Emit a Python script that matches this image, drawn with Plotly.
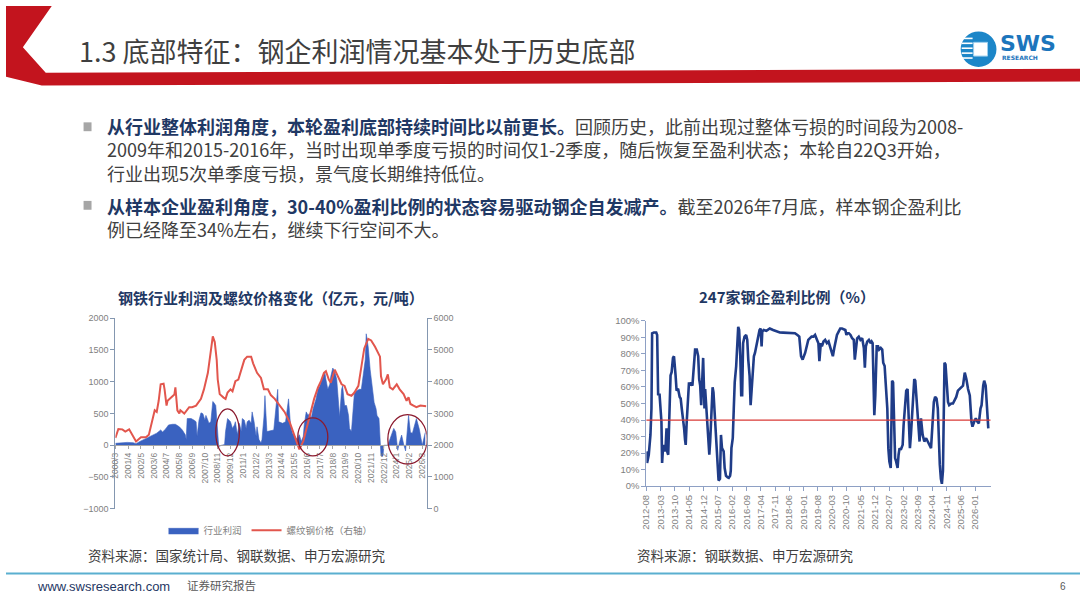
import pandas as pd
import plotly.graph_objects as go

W, H = 1080, 608

# 左图：钢铁行业利润（亿元，左轴）与螺纹钢价格（元/吨，右轴）
profit_dates = [
    "2000-03", "2000-09", "2001-03", "2001-09", "2001-12", "2002-04", "2002-08", "2003-01",
    "2003-04", "2003-06", "2003-09", "2004-01", "2004-03", "2004-06", "2004-09", "2005-01",
    "2005-04", "2005-08", "2005-11", "2006-02", "2006-03", "2006-04", "2006-08", "2006-11",
    "2007-01", "2007-02", "2007-04", "2007-06", "2007-08", "2007-10", "2007-11", "2008-01",
    "2008-02", "2008-04", "2008-06", "2008-07", "2008-09", "2008-10", "2008-11", "2008-12",
    "2009-03", "2009-06", "2009-07", "2009-09", "2009-12", "2010-02", "2010-04", "2010-05",
    "2010-07", "2010-09", "2010-11", "2010-12", "2011-02", "2011-04", "2011-05", "2011-07",
    "2011-09", "2011-10", "2011-12", "2012-02", "2012-03", "2012-05", "2012-07", "2012-08",
    "2012-10", "2012-11", "2013-01", "2013-04", "2013-08", "2013-12", "2014-01", "2014-05",
    "2014-08", "2014-11", "2015-01", "2015-03", "2015-06", "2015-08", "2015-10", "2015-12",
    "2016-02", "2016-03", "2016-05", "2016-07", "2016-08", "2016-10", "2016-12", "2017-01",
    "2017-03", "2017-05", "2017-07", "2017-08", "2017-10", "2017-12", "2018-01", "2018-03",
    "2018-05", "2018-06", "2018-08", "2018-10", "2018-12", "2019-01", "2019-03", "2019-05",
    "2019-06", "2019-08", "2019-10", "2019-12", "2020-01", "2020-03", "2020-04", "2020-06",
    "2020-08", "2020-11", "2021-01", "2021-03", "2021-05", "2021-06", "2021-08", "2021-10",
    "2022-01", "2022-02", "2022-04", "2022-05", "2022-07", "2022-08", "2022-09", "2022-11",
    "2022-12", "2023-04", "2023-07", "2023-10", "2023-12", "2024-02", "2024-04", "2024-06",
    "2024-08", "2024-10", "2024-11", "2025-01", "2025-03", "2025-05", "2025-09", "2025-12",
    "2026-03", "2026-05", "2026-06",
]
profit_values = [
    30, 40, 45, 40, 25, 60, 90, 120,
    140, 165, 190, 240, 210, 255, 320, 330,
    330, 290, 240, 165, 90, 420, 420, 395,
    370, 140, 395, 510, 495, 395, 470, 395,
    345, 370, 690, 675, 625, 420, 60, -20,
    0, 10, 215, 420, 370, 265, 320, 370,
    165, 345, 215, 420, 395, 265, 370, 395,
    345, 525, 370, 140, 290, 90, 35, 90,
    445, 780, 215, 230, 240, 880, 370, 345,
    370, 730, 320, 190, 140, 90, 165, 60,
    140, 320, 525, 470, 495, 420, 575, 625,
    730, 880, 935, 1010, 1085, 1140, 1035, 880,
    960, 1085, 1215, 1165, 1035, 780, 445, 880,
    935, 625, 625, 470, 265, 215, 420, 830,
    855, 880, 880, 1085, 1345, 1755, 1550, 1190,
    830, 675, 575, 470, 420, 0, -170, -170,
    0, 0, 120, 265, 210, -80, 60, 160,
    20, -90, 100, 470, 200, 190, 420, 250,
    0, 160, 200,
]
rebar_dates = [
    "2000-03", "2000-06", "2000-10", "2001-01", "2001-05", "2001-08", "2001-12", "2002-05",
    "2002-10", "2003-01", "2003-04", "2003-07", "2003-09", "2003-11", "2004-01", "2004-04",
    "2004-05", "2004-07", "2004-08", "2004-11", "2005-03", "2005-04", "2005-06", "2005-08",
    "2005-09", "2006-01", "2006-06", "2006-09", "2007-01", "2007-06", "2007-09", "2008-01",
    "2008-03", "2008-06", "2008-08", "2008-10", "2008-11", "2009-01", "2009-05", "2009-07",
    "2009-09", "2009-12", "2010-02", "2010-05", "2010-08", "2010-11", "2011-02", "2011-05",
    "2011-09", "2011-11", "2012-03", "2012-07", "2012-10", "2013-02", "2013-05", "2013-09",
    "2014-02", "2014-07", "2014-12", "2015-05", "2015-10", "2016-02", "2016-05", "2016-08",
    "2016-12", "2017-01", "2017-05", "2017-08", "2017-11", "2018-01", "2018-04", "2018-06",
    "2018-10", "2019-01", "2019-03", "2019-05", "2019-08", "2019-11", "2020-03", "2020-06",
    "2020-10", "2021-01", "2021-04", "2021-08", "2021-11", "2022-03", "2022-06", "2022-08",
    "2022-09", "2022-11", "2023-02", "2023-04", "2023-06", "2023-09", "2024-01", "2024-04",
    "2024-08", "2024-11", "2025-01", "2025-03", "2025-06", "2025-09", "2026-01", "2026-05",
    "2026-07",
]
rebar_values = [
    2230, 2510, 2500, 2430, 2500, 2350, 2120, 2250,
    2250, 2330, 2740, 3100, 3050, 3400, 3920, 3940,
    3760, 3250, 3400, 3500, 3600, 3820, 3100, 3000,
    3100, 3000, 3200, 3200, 3250, 3460, 3760, 4280,
    4790, 5430, 5250, 4680, 4070, 3610, 3500, 3460,
    3660, 3760, 3700, 4020, 4070, 4380, 4690, 4790,
    4790, 4580, 4280, 4120, 3760, 3760, 3580, 3460,
    3250, 3050, 2740, 2330, 1870, 2130, 2480, 2840,
    3350, 3460, 3820, 4020, 4280, 4330, 4070, 3970,
    4380, 4170, 4020, 3920, 3870, 3610, 3560, 3660,
    3870, 4480, 5050, 5350, 5300, 5100, 4890, 4790,
    4170, 3920, 4070, 4230, 3820, 3760, 3920, 3760,
    3610, 3400, 3510, 3300, 3250, 3200, 3250, 3230,
    3230,
]
left_tick_labels = [
    "2000/3", "2001/4", "2002/5", "2003/6", "2004/7", "2005/8", "2006/9", "2007/10",
    "2008/11", "2009/12", "2011/1", "2012/2", "2013/3", "2014/4", "2015/5", "2016/6",
    "2017/7", "2018/8", "2019/9", "2020/10", "2021/11", "2022/12", "2024/1", "2025/2",
    "2026/3",
]

# 右图：247家钢企盈利比例（%）
ratio_dates = [
    "2012-08-01", "2012-08-11", "2012-09-05", "2012-09-30", "2012-10-15", "2012-10-25",
    "2012-11-20", "2012-12-25", "2013-01-08", "2013-01-18", "2013-01-23", "2013-02-12",
    "2013-02-27", "2013-03-13", "2013-03-23", "2013-04-08", "2013-04-28", "2013-05-13",
    "2013-05-28", "2013-06-07", "2013-06-22", "2013-07-13", "2013-07-27", "2013-08-12",
    "2013-09-01", "2013-09-16", "2013-09-25", "2013-10-10", "2013-10-25", "2013-11-16",
    "2013-12-10", "2013-12-25", "2014-01-10", "2014-01-30", "2014-02-14", "2014-02-28",
    "2014-03-10", "2014-03-25", "2014-04-13", "2014-04-28", "2014-05-13", "2014-05-28",
    "2014-06-18", "2014-07-13", "2014-07-28", "2014-08-22", "2014-09-12", "2014-09-27",
    "2014-10-12", "2014-10-27", "2014-11-10", "2014-11-25", "2014-12-05", "2014-12-15",
    "2014-12-25", "2015-01-15", "2015-02-01", "2015-02-15", "2015-02-25", "2015-03-10",
    "2015-03-30", "2015-04-15", "2015-04-28", "2015-05-13", "2015-06-03", "2015-06-25",
    "2015-07-13", "2015-08-03", "2015-08-18", "2015-09-02", "2015-09-27", "2015-10-12",
    "2015-11-01", "2015-11-27", "2015-12-12", "2016-01-01", "2016-01-11", "2016-01-21",
    "2016-02-10", "2016-02-25", "2016-03-10", "2016-04-01", "2016-04-15", "2016-05-01",
    "2016-05-15", "2016-06-01", "2016-06-15", "2016-06-29", "2016-07-13", "2016-08-03",
    "2016-08-28", "2016-09-13", "2016-09-28", "2016-10-18", "2016-11-02", "2016-11-18",
    "2016-12-06", "2016-12-21", "2017-01-06", "2017-01-27", "2017-02-12", "2017-03-01",
    "2017-03-15", "2017-04-01", "2017-04-15", "2017-04-25", "2017-05-15", "2017-06-25",
    "2017-08-15", "2017-10-03", "2017-11-25", "2018-01-12", "2018-03-02", "2018-06-10",
    "2018-08-25", "2018-10-01", "2018-10-29", "2018-11-24", "2018-12-18", "2019-01-24",
    "2019-02-18", "2019-03-12", "2019-05-01", "2019-05-28", "2019-06-21", "2019-07-16",
    "2019-08-10", "2019-08-25", "2019-09-15", "2019-10-01", "2019-10-25", "2019-11-19",
    "2019-12-15", "2020-01-09", "2020-02-03", "2020-02-28", "2020-03-13", "2020-04-03",
    "2020-04-18", "2020-05-13", "2020-06-07", "2020-07-01", "2020-07-27", "2020-08-21",
    "2020-09-15", "2020-10-01", "2020-10-12", "2020-11-06", "2020-12-01", "2020-12-25",
    "2021-01-19", "2021-02-03", "2021-02-18", "2021-03-10", "2021-04-03", "2021-04-28",
    "2021-05-24", "2021-06-18", "2021-07-03", "2021-07-18", "2021-08-07", "2021-09-01",
    "2021-09-27", "2021-10-12", "2021-10-27", "2021-11-06", "2021-11-21", "2021-12-06",
    "2021-12-16", "2021-12-27", "2022-01-16", "2022-02-01", "2022-02-25", "2022-03-19",
    "2022-04-03", "2022-04-24", "2022-05-09", "2022-05-24", "2022-06-03", "2022-06-18",
    "2022-07-03", "2022-07-24", "2022-08-03", "2022-08-13", "2022-08-28", "2022-09-12",
    "2022-09-27", "2022-10-12", "2022-11-03", "2022-11-18", "2022-12-03", "2022-12-21",
    "2023-01-18", "2023-02-01", "2023-02-21", "2023-03-12", "2023-04-01", "2023-04-15",
    "2023-05-06", "2023-05-21", "2023-06-06", "2023-06-25", "2023-07-10", "2023-07-25",
    "2023-08-09", "2023-08-28", "2023-09-12", "2023-09-27", "2023-10-18", "2023-11-12",
    "2023-12-07", "2024-01-03", "2024-01-27", "2024-02-21", "2024-03-16", "2024-04-12",
    "2024-04-27", "2024-05-16", "2024-06-06", "2024-06-25", "2024-07-10", "2024-07-25",
    "2024-08-10", "2024-08-25", "2024-09-10", "2024-09-25", "2024-10-03", "2024-10-18",
    "2024-11-03", "2024-11-24", "2024-12-12", "2025-01-12", "2025-02-06", "2025-03-01",
    "2025-03-27", "2025-04-21", "2025-05-15", "2025-06-12", "2025-07-06", "2025-08-01",
    "2025-08-25", "2025-09-19", "2025-10-15", "2025-11-09", "2025-11-24", "2025-12-19",
    "2026-01-13", "2026-02-07", "2026-02-27", "2026-03-24", "2026-04-09", "2026-05-03",
    "2026-05-18", "2026-06-09", "2026-06-24", "2026-07-09", "2026-07-18",
]
ratio_values = [
    21, 14, 19, 31, 47, 92.5,
    93, 93, 91.5, 67, 55, 56,
    45, 39, 14, 25, 21, 23,
    35, 21, 19, 47, 67, 69,
    77.6, 78.6, 71, 67, 57.8, 59,
    53.9, 53, 47, 41, 35, 28,
    25, 39, 55, 62.8, 60.8, 62.8,
    60.8, 74.7, 82.6, 82.6, 78.6, 64.8,
    60.8, 49, 67.7, 77.6, 62.8, 47,
    58.8, 47, 35, 25, 19, 27,
    47, 59.8, 56.8, 47, 31, 15,
    3.4, 4.4, 31, 23, 21, 11,
    6.3, 5.3, 5, 6.3, 9.3, 23,
    29, 47, 62.8, 72.7, 86.5, 96.4,
    94.5, 78.6, 55, 55, 86.5, 90.5,
    91.5, 88.5, 76.6, 66.7, 49, 57,
    70.7, 78.6, 80.6, 84.6, 87.5, 92.5,
    94.5, 95.4, 84.6, 93.5, 94.5, 94,
    95.4, 94.5, 93.5, 93, 92.9, 92.5,
    92.5, 91.5, 90.5, 78.6, 76.6, 80.6,
    84.6, 88.5, 90.5, 90.5, 91.5, 88.5,
    86.5, 75.6, 86.5, 84.6, 87.5, 88.5,
    86.5, 87.5, 83.6, 80.6, 78.6, 83.6,
    86.5, 91.5, 93.5, 95.4, 95.4, 94.9,
    94.5, 91.5, 92.5, 92.5, 91.5, 89.5,
    88.5, 76.6, 84.6, 89.5, 90.5, 88.5,
    89.5, 83.6, 71.7, 84.6, 87.5, 88.5,
    86.5, 87.5, 86.5, 66.7, 43, 54.9,
    74.7, 84.6, 84.6, 82.6, 83.6, 82.6,
    74.7, 72.7, 62.8, 52.9, 47, 23,
    15, 11, 35, 63.8, 62.8, 43,
    17, 15, 11, 19, 23, 22,
    25, 37, 47, 57.8, 58.8, 43,
    23, 31, 43, 60.8, 64.8, 63.8,
    54.9, 43, 31, 27, 41, 31,
    27, 29, 27, 25, 23, 41,
    51, 54, 53, 47, 27, 13,
    4.4, 1.4, 9.3, 45, 74.7, 73.7,
    62.8, 51, 49, 50, 50, 52,
    54, 57.8, 58.8, 59.8, 60.8, 68.7,
    64.8, 58.8, 54.9, 39, 36, 39,
    41, 39, 38, 47, 49, 60.8,
    63.8, 60.8, 51, 39, 35,
]
right_tick_labels = [
    "2012-08", "2013-03", "2013-10", "2014-05", "2014-12", "2015-07", "2016-02", "2016-09",
    "2017-04", "2017-11", "2018-06", "2019-01", "2019-08", "2020-03", "2020-10", "2021-05",
    "2021-12", "2022-07", "2023-02", "2023-09", "2024-04", "2024-11", "2025-06", "2026-01",
]
ratio_line = 40

CJK = "Noto Sans CJK SC"
NUM = "Liberation Sans, Noto Sans CJK SC"
NAVY = "#1F3864"
GREY = "#7F7F7F"


def px(x):
    return x / W


def py(y):
    return 1 - y / H


def poly(points):
    return "M " + " L ".join(f"{px(x):.4f},{py(y):.4f}" for x, y in points) + " Z"


fig = go.Figure()

fig.add_trace(go.Scatter(
    x=profit_dates, y=profit_values, name="行业利润", mode="lines",
    fill="tozeroy", fillcolor="#3A62C0", line=dict(color="#3A62C0", width=0.6),
    xaxis="x", yaxis="y",
))
fig.add_trace(go.Scatter(
    x=rebar_dates, y=rebar_values, name="螺纹钢价格（右轴）", mode="lines",
    line=dict(color="#E2564D", width=2), xaxis="x", yaxis="y2",
))
fig.add_trace(go.Scatter(
    x=ratio_dates, y=ratio_values, mode="lines", showlegend=False,
    line=dict(color="#1F3C88", width=2.6), xaxis="x2", yaxis="y3",
))

axis_style = dict(showgrid=False, zeroline=False, showline=True, ticks="outside",
                  ticklen=4, tickfont=dict(family=NUM, size=9, color=GREY))

fig.update_layout(
    width=W, height=H, autosize=False,
    margin=dict(l=0, r=0, t=0, b=0),
    paper_bgcolor="white", plot_bgcolor="white",
    showlegend=True,
    legend=dict(orientation="h", x=px(266), xanchor="center", y=py(534), yanchor="middle",
                font=dict(family=CJK, size=9.5, color=GREY), itemwidth=30,
                bgcolor="rgba(0,0,0,0)"),
    xaxis=dict(
        domain=[px(110), px(423)], type="date", range=["2000-03-01", "2026-07-15"],
        anchor="free", position=py(447.5),
        tickvals=pd.to_datetime(left_tick_labels, format="%Y/%m"), ticktext=left_tick_labels,
        tickangle=-90, linecolor="#A6A6A6", tickcolor="#A6A6A6",
        **{**axis_style, "ticklen": 3, "tickfont": dict(family=NUM, size=8.5, color=GREY)},
    ),
    yaxis=dict(
        domain=[py(512), py(318)], range=[-1000, 2000], dtick=500, anchor="x",
        linecolor="#8497B0", tickcolor="#8497B0", **axis_style,
    ),
    yaxis2=dict(
        overlaying="y", side="right", range=[0, 6000], dtick=1000, anchor="x",
        linecolor="#8497B0", tickcolor="#8497B0", **axis_style,
    ),
    xaxis2=dict(
        domain=[px(644), px(990)], type="date", range=["2012-08-01", "2026-08-20"],
        anchor="y3",
        tickvals=pd.to_datetime(right_tick_labels, format="%Y-%m"), ticktext=right_tick_labels,
        tickangle=-90, linecolor="#8EA0C4", tickcolor="#8EA0C4",
        **{**axis_style, "tickfont": dict(family=NUM, size=9.5, color=GREY)},
    ),
    yaxis3=dict(
        domain=[py(489), py(320.7)], range=[0, 100], dtick=10, ticksuffix="%", anchor="x2",
        linecolor="#8EA0C4", tickcolor="#8EA0C4",
        **{**axis_style, "tickfont": dict(family=NUM, size=9.5, color=GREY)},
    ),
)

shapes = [
    # 页眉红色折角与横条
    dict(type="path", xref="paper", yref="paper", line=dict(width=0), fillcolor="#C3141E",
         path=poly([(0, 0), (46, 0), (17, 42), (40, 68), (1080, 64), (1080, 77), (36, 81), (0, 72)])),
    # SWS 标志
    dict(type="circle", xref="paper", yref="paper", x0=px(960), x1=px(996), y0=py(62), y1=py(26),
         fillcolor="#1C86C8", line=dict(width=0)),
    dict(type="rect", xref="paper", yref="paper", x0=px(973), x1=px(987), y0=py(51), y1=py(37),
         fillcolor="white", line=dict(color="#9FD0EE", width=1)),
    # 页脚分隔线
    dict(type="line", xref="paper", yref="paper", x0=0, x1=1, y0=py(578), y1=py(578),
         line=dict(color="#5AAFD0", width=2)),
    # 右图40%参考线
    dict(type="line", xref="x2 domain", yref="y3", x0=0, x1=1, y0=ratio_line, y1=ratio_line,
         line=dict(color="#D93A36", width=1.3)),
]
for y in (33, 38, 43, 48, 53):
    shapes.append(dict(type="line", xref="paper", yref="paper", x0=px(961), x1=px(972),
                       y0=py(y), y1=py(y), line=dict(color="white", width=1.6)))
# 正文项目符号
for y in (123, 203):
    shapes.append(dict(type="rect", xref="paper", yref="paper", x0=px(78), x1=px(86),
                       y0=py(y + 4.5), y1=py(y - 4.5), fillcolor="#A6A6A6", line=dict(width=0)))
# 左图中标注的三段亏损区间
for x0, x1, ytop, ybot in [("2008-09-01", "2010-09-01", 574, -169),
                           ("2015-08-15", "2018-03-01", 431, -169),
                           ("2023-04-01", "2026-08-01", 482, -297)]:
    shapes.append(dict(type="circle", xref="x", yref="y", x0=x0, x1=x1, y0=ybot, y1=ytop,
                       line=dict(color="#8B1A2E", width=1.3)))
fig.update_layout(shapes=shapes)


def bold(s):
    return f"<b><span style='color:{NAVY}'>{s}</span></b>"


bullet_1 = (bold("从行业整体利润角度，本轮盈利底部持续时间比以前更长。")
            + "回顾历史，此前出现过整体亏损的时间段为2008-<br>"
            + "2009年和2015-2016年，当时出现单季度亏损的时间仅1-2季度，随后恢复至盈利状态；本轮自22Q3开始，<br>"
            + "行业出现5次单季度亏损，景气度长期维持低位。")
bullet_2 = (bold("从样本企业盈利角度，30-40%盈利比例的状态容易驱动钢企自发减产。")
            + "截至2026年7月底，样本钢企盈利比<br>"
            + "例已经降至34%左右，继续下行空间不大。")

annotations = [
    dict(x=px(71), y=py(45), text="1.3 底部特征：钢企利润情况基本处于历史底部",
         font=dict(family=CJK, size=27, color="#3F3F3F"), xanchor="left"),
    dict(x=px(998), y=py(38), text="<b>SWS</b>", xanchor="left",
         font=dict(family="DejaVu Sans", size=22, color="#1C75BC")),
    dict(x=px(1000), y=py(52.5), text="<b>RESEARCH</b>", xanchor="left",
         font=dict(family="DejaVu Sans", size=6, color="#1C75BC")),
    dict(x=px(100), y=py(146.5), text=bullet_1, xanchor="left", align="left",
         font=dict(family=CJK, size=18, color="#404040")),
    dict(x=px(100), y=py(215), text=bullet_2, xanchor="left", align="left",
         font=dict(family=CJK, size=18, color="#404040")),
    dict(x=px(266), y=py(297), text="<b>钢铁行业利润及螺纹价格变化（亿元，元/吨）</b>",
         font=dict(family=CJK, size=15, color=NAVY), xanchor="center"),
    dict(x=px(785), y=py(296), text="<b>247家钢企盈利比例（%）</b>",
         font=dict(family=CJK, size=15, color=NAVY), xanchor="center"),
    dict(x=px(80), y=py(559), text="资料来源：国家统计局、钢联数据、申万宏源研究",
         font=dict(family=CJK, size=13.5, color="#404040"), xanchor="left"),
    dict(x=px(633), y=py(559), text="资料来源：钢联数据、申万宏源研究",
         font=dict(family=CJK, size=13.5, color="#404040"), xanchor="left"),
    dict(x=px(29), y=py(591), text="www.swsresearch.com",
         font=dict(family="Liberation Sans", size=13, color="#1F3864"), xanchor="left"),
    dict(x=px(180), y=py(590), text="证券研究报告",
         font=dict(family=CJK, size=11.5, color="#595959"), xanchor="left"),
    dict(x=px(1063), y=py(591), text="6",
         font=dict(family="Liberation Sans", size=10, color="#595959"), xanchor="center"),
]
for a in annotations:
    a.update(xref="paper", yref="paper", showarrow=False, yanchor="middle")
fig.update_layout(annotations=annotations)

fig.write_html("out.html", config={"displayModeBar": False},
               post_script="document.body.style.margin='0';document.body.style.overflow='hidden';")
